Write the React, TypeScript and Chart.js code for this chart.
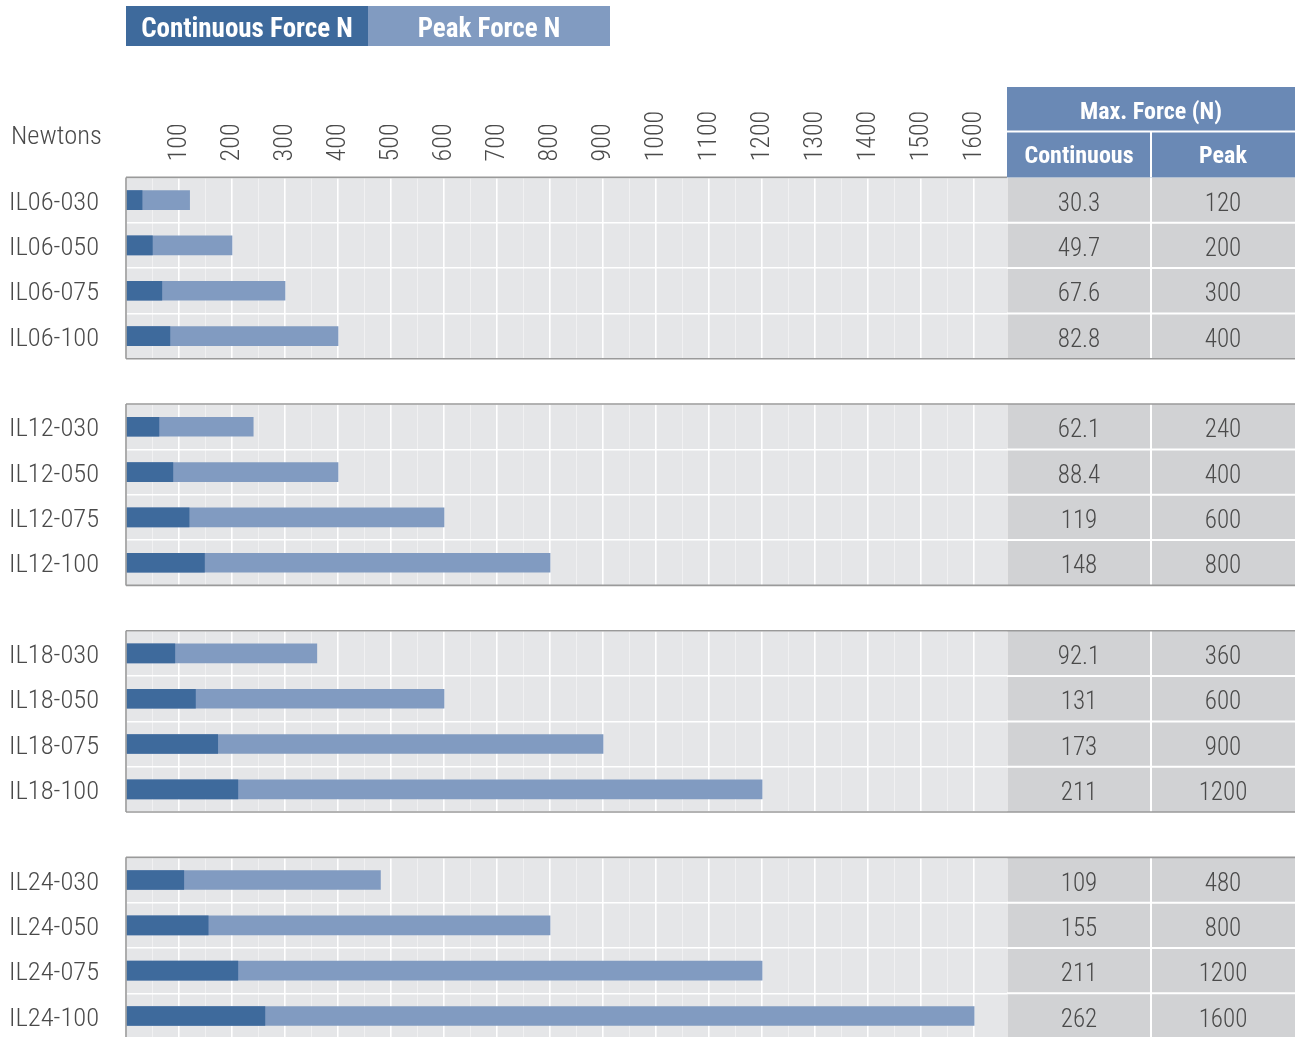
import React, { useEffect, useRef } from 'react';
import { Chart, registerables } from 'chart.js';

Chart.register(...registerables);

const FONT = '"Roboto Condensed", "Liberation Sans Narrow", "DejaVu Sans Condensed", sans-serif';

// ---- Data ----
const models = [
  'IL06-030', 'IL06-050', 'IL06-075', 'IL06-100',
  'IL12-030', 'IL12-050', 'IL12-075', 'IL12-100',
  'IL18-030', 'IL18-050', 'IL18-075', 'IL18-100',
  'IL24-030', 'IL24-050', 'IL24-075', 'IL24-100',
];
const continuousForce = [
  30.3, 49.7, 67.6, 82.8,
  62.1, 88.4, 119, 148,
  92.1, 131, 173, 211,
  109, 155, 211, 262,
];
const peakForce = [
  120, 200, 300, 400,
  240, 400, 600, 800,
  360, 600, 900, 1200,
  480, 800, 1200, 1600,
];
const groupSize = 4;
const legendLabels = ['Continuous Force N', 'Peak Force N'];
const axisTitle = 'Newtons';
const tableTitle = 'Max. Force (N)';
const tableColumns = ['Continuous', 'Peak'];
const axisMax = 1662;
const axisStep = 50;

// ---- Colours ----
const DARK = '#3e6a9c';
const LIGHT = '#819bc1';
const HEADER = '#6a89b5';
const PANEL = '#e5e6e8';
const CELL = '#d1d2d4';
const BORDER = '#9a9a9a';
const TEXT = '#4a4a4a';

const TICK_SIZE = 26;
const LABEL_SIZE = 26.5;
const VALUE_SIZE = 25;

// rows with empty spacer rows between groups
const rowLabels: string[] = [];
const rowCont: (number | null)[] = [];
const rowPeak: (number | null)[] = [];
const modelRow: number[] = [];
models.forEach((m, i) => {
  if (i > 0 && i % groupSize === 0) {
    rowLabels.push(' '.repeat(i / groupSize));
    rowCont.push(null);
    rowPeak.push(null);
  }
  modelRow.push(rowLabels.length);
  rowLabels.push(m);
  rowCont.push(continuousForce[i]);
  rowPeak.push(peakForce[i]);
});
const groups: { start: number; end: number }[] = [];
for (let g = 0; g < models.length / groupSize; g++) {
  groups.push({ start: modelRow[g * groupSize], end: modelRow[g * groupSize + groupSize - 1] });
}

const decorPlugin = {
  id: 'decor',
  beforeDraw(chart: any) {
    const { ctx, chartArea, scales } = chart;
    const y = scales.y;
    const rowH = Math.abs(y.getPixelForValue(1) - y.getPixelForValue(0));
    ctx.save();
    groups.forEach(({ start, end }) => {
      const top = y.getPixelForValue(start) - rowH / 2;
      const bottom = y.getPixelForValue(end) + rowH / 2;
      ctx.fillStyle = PANEL;
      ctx.fillRect(chartArea.left, top, chartArea.right - chartArea.left, bottom - top);
      ctx.fillStyle = CELL;
      ctx.fillRect(chartArea.right, top, chart.width - chartArea.right, bottom - top);
    });
    ctx.restore();
  },
  afterDraw(chart: any) {
    const { ctx, chartArea, scales } = chart;
    const y = scales.y;
    const W = chart.width;
    const rowH = Math.abs(y.getPixelForValue(1) - y.getPixelForValue(0));
    const tL = chartArea.right;
    const colW = (W - tL) / 2;
    const mid = tL + colW;
    ctx.save();

    // table separators
    ctx.strokeStyle = '#ffffff';
    ctx.lineWidth = 2;
    groups.forEach(({ start, end }) => {
      const top = y.getPixelForValue(start) - rowH / 2;
      const bottom = y.getPixelForValue(end) + rowH / 2;
      for (let r = start; r < end; r++) {
        const yy = y.getPixelForValue(r) + rowH / 2;
        ctx.beginPath();
        ctx.moveTo(tL, yy);
        ctx.lineTo(W, yy);
        ctx.stroke();
      }
      ctx.beginPath();
      ctx.moveTo(mid, top);
      ctx.lineTo(mid, bottom);
      ctx.stroke();
    });

    // table values
    ctx.fillStyle = TEXT;
    ctx.font = `300 ${VALUE_SIZE}px ${FONT}`;
    ctx.textAlign = 'center';
    ctx.textBaseline = 'alphabetic';
    models.forEach((_, i) => {
      const yy = y.getPixelForValue(modelRow[i]) + 10.5;
      ctx.fillText(String(continuousForce[i]), tL + colW / 2, yy);
      ctx.fillText(String(peakForce[i]), mid + colW / 2, yy);
    });

    // panel borders
    ctx.strokeStyle = BORDER;
    ctx.lineWidth = 1.6;
    groups.forEach(({ start, end }, gi) => {
      const top = y.getPixelForValue(start) - rowH / 2;
      const bottom = y.getPixelForValue(end) + rowH / 2;
      ctx.beginPath();
      ctx.moveTo(chartArea.left, top);
      ctx.lineTo(gi === 0 ? tL : W, top);
      ctx.moveTo(chartArea.left, bottom);
      ctx.lineTo(W, bottom);
      ctx.moveTo(chartArea.left, top);
      ctx.lineTo(chartArea.left, bottom);
      ctx.stroke();
    });

    // table header
    const headTop = 87;
    const headMid = 131.5;
    const headBottom = y.getPixelForValue(groups[0].start) - rowH / 2;
    ctx.fillStyle = HEADER;
    ctx.fillRect(tL, headTop, W - tL, headBottom - headTop);
    ctx.strokeStyle = '#ffffff';
    ctx.lineWidth = 2;
    ctx.beginPath();
    ctx.moveTo(tL, headMid);
    ctx.lineTo(W, headMid);
    ctx.moveTo(mid, headMid);
    ctx.lineTo(mid, headBottom);
    ctx.stroke();
    ctx.fillStyle = '#ffffff';
    ctx.font = `bold 24px ${FONT}`;
    ctx.fillText(tableTitle, tL + (W - tL) / 2, 118.5);
    ctx.fillText(tableColumns[0], tL + colW / 2, 162.5);
    ctx.fillText(tableColumns[1], mid + colW / 2, 162.5);

    // legend
    const legTop = 6;
    const legH = 40;
    const legW = 242;
    legendLabels.forEach((lab, i) => {
      const x0 = chartArea.left + i * legW;
      ctx.fillStyle = chart.data.datasets[i].backgroundColor;
      ctx.fillRect(x0, legTop, legW, legH);
      ctx.fillStyle = '#ffffff';
      ctx.font = `bold 27px ${FONT}`;
      ctx.textAlign = 'center';
      ctx.fillText(lab, x0 + legW / 2, 37);
    });

    // axis title
    ctx.fillStyle = TEXT;
    ctx.font = `300 ${LABEL_SIZE}px ${FONT}`;
    ctx.textAlign = 'left';
    ctx.fillText(axisTitle, 11, 144);
    ctx.restore();
  },
};

export default function App() {
  const ref = useRef<HTMLCanvasElement | null>(null);
  useEffect(() => {
    if (!ref.current) return;
    const chart = new Chart(ref.current, {
      type: 'bar',
      data: {
        labels: rowLabels,
        datasets: [
          {
            label: legendLabels[0],
            data: rowCont,
            backgroundColor: DARK,
            barThickness: 19,
            grouped: false,
          } as any,
          {
            label: legendLabels[1],
            data: rowPeak,
            backgroundColor: LIGHT,
            barThickness: 19,
            grouped: false,
          } as any,
        ],
      },
      options: {
        indexAxis: 'y',
        animation: false,
        responsive: false,
        devicePixelRatio: 1,
        layout: { padding: { top: 0, left: 9, right: 288, bottom: 1.3 } },
        plugins: { legend: { display: false }, tooltip: { enabled: false } },
        scales: {
          x: {
            type: 'linear',
            position: 'top',
            min: 0,
            max: axisMax,
            afterFit: (s: any) => {
              s.height = 177.4;
              s.paddingLeft = 0;
              s.paddingRight = 0;
            },
            border: { display: false },
            grid: {
              drawTicks: false,
              color: (c: any) => (c.tick && c.tick.value % 100 === 0 ? '#ffffff' : 'rgba(255,255,255,0.45)'),
              lineWidth: (c: any) => (c.tick && c.tick.value % 100 === 0 ? 1.6 : 1),
            },
            ticks: {
              stepSize: axisStep,
              autoSkip: false,
              minRotation: 90,
              maxRotation: 90,
              padding: 16,
              labelOffset: TICK_SIZE * 1.2,
              color: TEXT,
              font: { family: FONT, size: TICK_SIZE, weight: '300', lineHeight: 1.2 },
              callback: (v: any) => (v > 0 && v % 100 === 0 ? String(v) : ''),
            },
          },
          y: {
            type: 'category',
            afterFit: (s: any) => {
              s.width = 117;
              s.paddingTop = 0;
              s.paddingBottom = 0;
            },
            border: { display: false },
            grid: { drawTicks: false, color: '#ffffff', lineWidth: 1.6, offset: true },
            ticks: {
              autoSkip: false,
              crossAlign: 'far',
              padding: 0,
              labelOffset: 3,
              color: TEXT,
              font: { family: FONT, size: LABEL_SIZE, weight: '300' },
            },
          },
        },
      } as any,
      plugins: [decorPlugin],
    });
    return () => chart.destroy();
  }, []);
  return (
    <div style={{ position: 'fixed', left: 0, top: 0, width: 1295, height: 1037, overflow: 'hidden', background: '#fff' }}>
      <canvas ref={ref} width={1295} height={1040} style={{ display: 'block' }} />
    </div>
  );
}
